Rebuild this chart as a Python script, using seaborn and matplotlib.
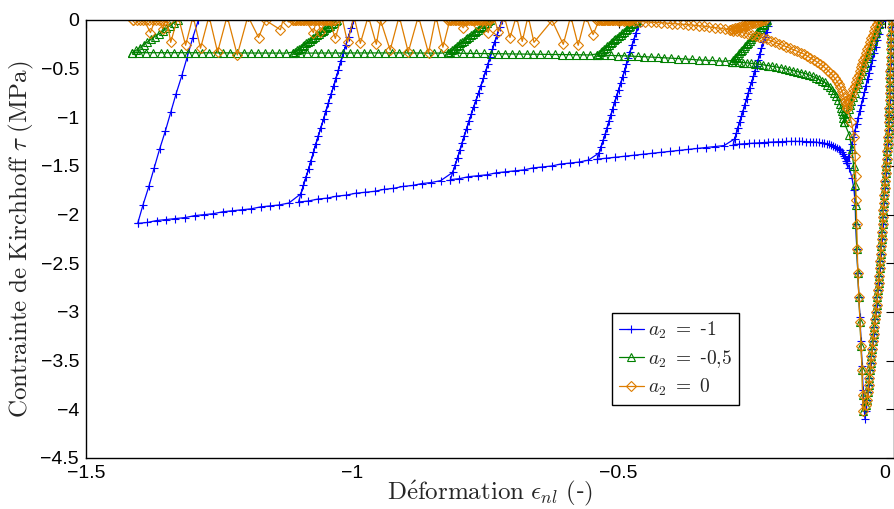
import matplotlib
matplotlib.use("Agg")
import matplotlib.pyplot as plt
import seaborn as sns

# pre-peak branch (same for the three a2 values)
arm_x = [0.013, 0.0125, 0.012, 0.0115, 0.011, 0.0108, 0.0105, 0.0101, 0.0098, 0.0094, 0.009, 0.0087, 0.0083,
         0.0079, 0.0075, 0.0066, 0.0057, 0.0048, 0.0038, 0.0029, 0.002, 0.0012, 0.0003, -0.0006, -0.0015, -0.0023,
         -0.003, -0.0039, -0.0047, -0.0055, -0.0063, -0.0072, -0.008, -0.0089, -0.0098, -0.0109, -0.012, -0.0132,
         -0.0143, -0.0157, -0.017, -0.0185, -0.020, -0.0215, -0.0229, -0.0242, -0.0254, -0.0267, -0.028, -0.0293,
         -0.0306, -0.0318, -0.033]
arm_y = [0.0, -0.075, -0.15, -0.225, -0.3, -0.375, -0.45, -0.525, -0.6, -0.675, -0.75, -0.825, -0.9, -0.975, -1.05,
         -1.125, -1.2, -1.275, -1.35, -1.425, -1.5, -1.575, -1.65, -1.725, -1.8, -1.875, -1.95, -2.025, -2.1, -2.175,
         -2.25, -2.325, -2.4, -2.475, -2.55, -2.625, -2.7, -2.775, -2.85, -2.925, -3.0, -3.075, -3.15, -3.225, -3.3,
         -3.375, -3.45, -3.525, -3.6, -3.675, -3.75, -3.825, -3.9]

# ---- a2 = -1 (blue)
b_soft_x = [-0.0355, -0.0375, -0.040, -0.041, -0.043, -0.045, -0.047, -0.049, -0.051, -0.053, -0.055, -0.056,
            -0.058, -0.062, -0.067, -0.071]
b_soft_y = [-4.02, -4.10, -3.95, -3.80, -3.55, -3.30, -3.05, -2.85, -2.60, -2.35, -2.10, -1.90, -1.75, -1.62,
            -1.52, -1.47]
b_diag_x = [-0.071, -0.0651, -0.0592, -0.0533, -0.0474, -0.0415, -0.0355, -0.0297, -0.0237, -0.0178, -0.0119, -0.006]
b_diag_y = [-1.47, -1.337, -1.204, -1.072, -0.939, -0.806, -0.674, -0.541, -0.408, -0.276, -0.143, -0.01]
b_rdiag_x = [-0.009, -0.0149, -0.0208, -0.0267, -0.0326, -0.0385, -0.0445, -0.0504, -0.0563, -0.0622, -0.068]
b_rdiag_y = [-0.077, -0.21, -0.342, -0.475, -0.608, -0.74, -0.873, -1.005, -1.138, -1.27, -1.404]
b_arc_x = [-0.071, -0.073, -0.075, -0.077, -0.079, -0.0815, -0.084, -0.087, -0.090, -0.0935, -0.097, -0.101, -0.105,
           -0.1095, -0.114, -0.119, -0.124, -0.1295, -0.135, -0.1415, -0.148, -0.155, -0.162, -0.1695, -0.177,
           -0.185, -0.193, -0.2015, -0.210, -0.219, -0.228, -0.237, -0.246, -0.2555, -0.265, -0.275, -0.285]
b_arc_y = [-1.47, -1.445, -1.42, -1.40, -1.38, -1.36, -1.34, -1.325, -1.31, -1.30, -1.29, -1.2825, -1.275, -1.27,
           -1.265, -1.2615, -1.258, -1.255, -1.252, -1.2505, -1.249, -1.248, -1.247, -1.247, -1.247, -1.248, -1.249,
           -1.251, -1.253, -1.256, -1.259, -1.262, -1.265, -1.2685, -1.272, -1.276, -1.28]
b_u5_x = [-0.285, -0.279, -0.273, -0.266, -0.260, -0.254, -0.247, -0.241, -0.235, -0.229, -0.222, -0.216]
b_u5_y = [-1.28, -1.16, -1.05, -0.93, -0.81, -0.70, -0.58, -0.47, -0.35, -0.23, -0.12, 0.0]
b_r5_x = [-0.219, -0.2255, -0.232, -0.238, -0.244, -0.2505, -0.257, -0.263, -0.2695, -0.276, -0.282]
b_r5_y = [-0.06, -0.175, -0.29, -0.41, -0.525, -0.64, -0.755, -0.87, -0.99, -1.105, -1.22]
b_l54_x = [-0.302, -0.319, -0.336, -0.353, -0.370, -0.387, -0.404, -0.421, -0.438, -0.455, -0.472, -0.489, -0.506,
           -0.523, -0.540]
b_l54_y = [-1.29, -1.30, -1.31, -1.32, -1.33, -1.34, -1.35, -1.36, -1.37, -1.38, -1.39, -1.40, -1.41, -1.42, -1.43]
b_u4_x = [-0.540, -0.533, -0.525, -0.518, -0.511, -0.504, -0.496, -0.489, -0.482, -0.475, -0.467, -0.460]
b_u4_y = [-1.43, -1.30, -1.17, -1.04, -0.91, -0.78, -0.65, -0.52, -0.39, -0.26, -0.13, 0.0]
b_r4_x = [-0.4635, -0.471, -0.4785, -0.4855, -0.4925, -0.500, -0.5075, -0.5145, -0.5215, -0.529, -0.5365]
b_r4_y = [-0.065, -0.195, -0.325, -0.455, -0.585, -0.715, -0.845, -0.975, -1.105, -1.235, -1.365]
b_l43_x = [-0.557, -0.575, -0.592, -0.609, -0.626, -0.644, -0.661, -0.678, -0.695, -0.713, -0.730, -0.747, -0.764,
           -0.782, -0.799, -0.816]
b_l43_y = [-1.44, -1.46, -1.47, -1.48, -1.50, -1.51, -1.52, -1.54, -1.55, -1.56, -1.57, -1.59, -1.60, -1.61, -1.63,
           -1.64]
b_u3_x = [-0.816, -0.807, -0.798, -0.790, -0.781, -0.772, -0.763, -0.754, -0.745, -0.737, -0.728, -0.719]
b_u3_y = [-1.64, -1.49, -1.34, -1.19, -1.04, -0.89, -0.75, -0.60, -0.45, -0.30, -0.15, 0.0]
b_r3_x = [-0.7235, -0.7325, -0.741, -0.7495, -0.7585, -0.7675, -0.7765, -0.7855, -0.794, -0.8025, -0.8115]
b_r3_y = [-0.075, -0.225, -0.375, -0.525, -0.675, -0.82, -0.965, -1.115, -1.265, -1.415, -1.565]
b_l32_x = [-0.834, -0.852, -0.869, -0.887, -0.905, -0.923, -0.941, -0.958, -0.976, -0.994, -1.012, -1.030, -1.047,
           -1.065, -1.083, -1.101]
b_l32_y = [-1.65, -1.67, -1.68, -1.70, -1.71, -1.73, -1.74, -1.76, -1.77, -1.78, -1.80, -1.81, -1.83, -1.84, -1.86,
           -1.87]
b_u2_x = [-1.101, -1.092, -1.082, -1.073, -1.064, -1.054, -1.045, -1.035, -1.026, -1.017, -1.007, -0.998]
b_u2_y = [-1.87, -1.70, -1.53, -1.36, -1.19, -1.02, -0.85, -0.68, -0.51, -0.34, -0.17, 0.0]
b_r2_x = [-1.0025, -1.012, -1.0215, -1.0305, -1.040, -1.0495, -1.059, -1.0685, -1.0775, -1.087, -1.0965]
b_r2_y = [-0.085, -0.255, -0.425, -0.595, -0.765, -0.935, -1.105, -1.275, -1.445, -1.615, -1.785]
b_l21_x = [-1.119, -1.137, -1.154, -1.172, -1.190, -1.208, -1.225, -1.243, -1.261, -1.279, -1.296, -1.314, -1.332,
           -1.350, -1.367, -1.385, -1.403]
b_l21_y = [-1.88, -1.90, -1.91, -1.92, -1.94, -1.95, -1.96, -1.97, -1.99, -2.00, -2.01, -2.03, -2.04, -2.05, -2.06,
           -2.08, -2.09]
b_u1_x = [-1.403, -1.393, -1.382, -1.372, -1.362, -1.351, -1.341, -1.331, -1.320, -1.310, -1.300, -1.289]
b_u1_y = [-2.09, -1.90, -1.71, -1.52, -1.33, -1.14, -0.95, -0.76, -0.57, -0.38, -0.19, 0.0]

# ---- a2 = -0.5 (green)
g_soft_x = [-0.036, -0.041, -0.042, -0.043, -0.045, -0.047, -0.049, -0.051, -0.053, -0.054, -0.055, -0.056, -0.059,
            -0.062, -0.067, -0.077]
g_soft_y = [-3.96, -4.02, -3.85, -3.60, -3.35, -3.10, -2.85, -2.60, -2.35, -2.10, -1.90, -1.70, -1.50, -1.33, -1.18,
            -1.05]
g_diag_x = [-0.077, -0.071, -0.066, -0.060, -0.054, -0.049, -0.043, -0.037, -0.032, -0.026, -0.020, -0.015, -0.009]
g_diag_y = [-1.05, -0.96, -0.875, -0.79, -0.70, -0.61, -0.525, -0.44, -0.35, -0.26, -0.175, -0.09, 0.0]
g_rdiag_x = [-0.012, -0.0175, -0.023, -0.029, -0.0345, -0.040, -0.046, -0.0515, -0.057, -0.063, -0.0685, -0.074]
g_rdiag_y = [-0.045, -0.1325, -0.2175, -0.305, -0.395, -0.4825, -0.5675, -0.655, -0.745, -0.8325, -0.9175, -1.005]
g_arc_x = [-0.077, -0.078, -0.079, -0.0805, -0.082, -0.085, -0.088, -0.0915, -0.095, -0.099, -0.103, -0.108, -0.113,
           -0.1185, -0.124, -0.1295, -0.135, -0.1425, -0.150, -0.1575, -0.165, -0.1725, -0.180, -0.188, -0.196,
           -0.204, -0.212, -0.2205, -0.229, -0.237, -0.245, -0.2525, -0.260, -0.2675, -0.275, -0.281, -0.287]
g_arc_y = [-1.05, -1.01, -0.97, -0.935, -0.90, -0.86, -0.82, -0.785, -0.75, -0.72, -0.69, -0.665, -0.64, -0.625,
           -0.61, -0.595, -0.58, -0.565, -0.55, -0.54, -0.53, -0.52, -0.51, -0.50, -0.49, -0.4825, -0.475, -0.4675,
           -0.46, -0.455, -0.45, -0.445, -0.44, -0.4375, -0.435, -0.4325, -0.43]
g_u5_x = [-0.287, -0.282, -0.276, -0.271, -0.265, -0.260, -0.254, -0.249, -0.243, -0.238, -0.232, -0.227, -0.221]
g_u5_y = [-0.43, -0.394, -0.358, -0.323, -0.287, -0.251, -0.215, -0.179, -0.143, -0.108, -0.072, -0.036, 0.0]
g_r5_x = [-0.224, -0.2295, -0.235, -0.2405, -0.246, -0.2515, -0.257, -0.2625, -0.268, -0.2735, -0.279, -0.2845]
g_r5_y = [-0.018, -0.054, -0.09, -0.1255, -0.161, -0.197, -0.233, -0.269, -0.305, -0.3405, -0.376, -0.412]
g_l54_x = [-0.300, -0.312, -0.325, -0.338, -0.350, -0.363, -0.376, -0.388, -0.401, -0.414, -0.426, -0.439, -0.452,
           -0.464, -0.477, -0.490, -0.502, -0.515, -0.527, -0.540]
g_l54_y = [-0.425, -0.42, -0.416, -0.413, -0.41, -0.405, -0.40, -0.396, -0.392, -0.388, -0.384, -0.38, -0.377,
           -0.374, -0.371, -0.368, -0.366, -0.364, -0.362, -0.36]
g_u4_x = [-0.540, -0.534, -0.528, -0.521, -0.515, -0.509, -0.503, -0.496, -0.490, -0.484, -0.478, -0.471, -0.465]
g_u4_y = [-0.36, -0.33, -0.30, -0.27, -0.24, -0.21, -0.18, -0.15, -0.12, -0.09, -0.06, -0.03, 0.0]
g_r4_x = [-0.468, -0.4745, -0.481, -0.487, -0.493, -0.4995, -0.506, -0.512, -0.518, -0.5245, -0.531, -0.537]
g_r4_y = [-0.015, -0.045, -0.075, -0.105, -0.135, -0.165, -0.195, -0.225, -0.255, -0.285, -0.315, -0.345]
g_l43_x = [-0.553, -0.567, -0.580, -0.593, -0.607, -0.620, -0.633, -0.647, -0.660, -0.673, -0.687, -0.700, -0.713,
           -0.727, -0.740, -0.753, -0.767, -0.780, -0.793, -0.807, -0.820]
g_l43_y = [-0.359, -0.358, -0.357, -0.356, -0.355, -0.354, -0.353, -0.352, -0.351, -0.350, -0.349, -0.348, -0.347,
           -0.346, -0.345, -0.344, -0.343, -0.342, -0.341, -0.340, -0.340]
g_u3_x = [-0.820, -0.813, -0.807, -0.800, -0.794, -0.787, -0.781, -0.774, -0.767, -0.761, -0.754, -0.748, -0.741]
g_u3_y = [-0.34, -0.312, -0.283, -0.255, -0.227, -0.198, -0.17, -0.142, -0.113, -0.085, -0.057, -0.028, 0.0]
g_r3_x = [-0.7445, -0.751, -0.7575, -0.764, -0.7705, -0.7775, -0.784, -0.7905, -0.797, -0.8035, -0.810, -0.8165]
g_r3_y = [-0.014, -0.0425, -0.071, -0.099, -0.1275, -0.156, -0.184, -0.2125, -0.241, -0.269, -0.2975, -0.326]
g_l32_x = [-0.833, -0.846, -0.860, -0.873, -0.886, -0.899, -0.913, -0.926, -0.939, -0.952, -0.966, -0.979, -0.992,
           -1.005, -1.018, -1.032, -1.045, -1.058, -1.071, -1.085, -1.098, -1.111]
g_l32_y = [-0.340, -0.340, -0.339, -0.339, -0.339, -0.338, -0.338, -0.338, -0.338, -0.338, -0.338, -0.338, -0.338,
           -0.338, -0.338, -0.339, -0.339, -0.339, -0.340, -0.340, -0.340, -0.340]
g_u2_x = [-1.111, -1.104, -1.097, -1.090, -1.083, -1.076, -1.070, -1.063, -1.056, -1.049, -1.042, -1.035, -1.028]
g_u2_y = [-0.34, -0.312, -0.283, -0.255, -0.227, -0.198, -0.17, -0.142, -0.113, -0.085, -0.057, -0.028, 0.0]
g_r2_x = [-1.0315, -1.0385, -1.0455, -1.0525, -1.0595, -1.0665, -1.073, -1.0795, -1.0865, -1.0935, -1.1005, -1.1075]
g_r2_y = [-0.014, -0.0425, -0.071, -0.099, -0.1275, -0.156, -0.184, -0.2125, -0.241, -0.269, -0.2975, -0.326]
g_l21_x = [-1.124, -1.137, -1.150, -1.164, -1.177, -1.190, -1.203, -1.216, -1.229, -1.242, -1.255, -1.269, -1.282,
           -1.295, -1.308, -1.321, -1.334, -1.347, -1.360, -1.374, -1.387, -1.400, -1.413]
g_l21_y = [-0.340, -0.340, -0.340, -0.339, -0.339, -0.339, -0.338, -0.338, -0.338, -0.337, -0.337, -0.337, -0.337,
           -0.336, -0.336, -0.336, -0.336, -0.336, -0.336, -0.336, -0.336, -0.336, -0.336]
g_u1_x = [-1.413, -1.406, -1.399, -1.392, -1.385, -1.378, -1.371, -1.363, -1.356, -1.349, -1.342, -1.335, -1.328]
g_u1_y = [-0.34, -0.312, -0.283, -0.255, -0.227, -0.198, -0.17, -0.142, -0.113, -0.085, -0.057, -0.028, 0.0]

# ---- a2 = 0 (orange)
o_soft_x = [-0.036, -0.041, -0.042, -0.043, -0.045, -0.047, -0.049, -0.051, -0.052, -0.053, -0.054, -0.055, -0.056,
            -0.058, -0.063, -0.072]
o_soft_y = [-3.96, -4.02, -3.85, -3.60, -3.35, -3.10, -2.85, -2.60, -2.35, -2.10, -1.85, -1.60, -1.40, -1.20, -1.05,
            -0.90]
o_diag_x = [-0.072, -0.067, -0.062, -0.057, -0.052, -0.047, -0.043, -0.038, -0.033, -0.028, -0.023, -0.018, -0.013]
o_diag_y = [-0.90, -0.825, -0.75, -0.675, -0.60, -0.525, -0.45, -0.375, -0.30, -0.225, -0.15, -0.075, 0.0]
o_rdiag_x = [-0.0155, -0.0205, -0.0255, -0.0305, -0.0355, -0.0405, -0.045, -0.0495, -0.0545, -0.0595, -0.0645,
             -0.0695]
o_rdiag_y = [-0.0375, -0.1125, -0.1875, -0.2625, -0.3375, -0.4125, -0.4875, -0.5625, -0.6375, -0.7125, -0.7875,
             -0.8625]
o_arc_x = [-0.072, -0.0735, -0.075, -0.077, -0.079, -0.0815, -0.084, -0.087, -0.090, -0.094, -0.098, -0.1025, -0.107,
           -0.112, -0.117, -0.1225, -0.128, -0.134, -0.140, -0.146, -0.152, -0.1585, -0.165, -0.1715, -0.178, -0.185,
           -0.192, -0.199, -0.206, -0.2135, -0.221, -0.2285, -0.236, -0.243, -0.250, -0.257, -0.264, -0.271, -0.278,
           -0.2845, -0.291]
o_arc_y = [-0.90, -0.865, -0.83, -0.795, -0.76, -0.725, -0.69, -0.66, -0.63, -0.60, -0.57, -0.545, -0.52, -0.495,
           -0.47, -0.45, -0.43, -0.41, -0.39, -0.37, -0.35, -0.335, -0.32, -0.305, -0.29, -0.275, -0.26, -0.245,
           -0.23, -0.215, -0.20, -0.1875, -0.175, -0.165, -0.155, -0.145, -0.135, -0.1265, -0.118, -0.109, -0.10]
o_u5_x = [-0.291, -0.284, -0.278, -0.271, -0.265, -0.258, -0.251, -0.245, -0.238, -0.232, -0.225]
o_u5_y = [-0.10, -0.09, -0.08, -0.07, -0.06, -0.05, -0.04, -0.03, -0.02, -0.01, 0.0]
o_r5_x = [-0.2285, -0.235, -0.2415, -0.248, -0.2545, -0.2615, -0.268, -0.2745, -0.281, -0.2875]
o_r5_y = [-0.005, -0.015, -0.025, -0.035, -0.045, -0.055, -0.065, -0.075, -0.085, -0.095]
o_l54_x = [-0.300, -0.310, -0.320, -0.330, -0.340, -0.350, -0.360, -0.370, -0.380, -0.390, -0.400, -0.410, -0.420,
           -0.430, -0.440, -0.450, -0.460, -0.470, -0.480, -0.490, -0.500, -0.510, -0.520, -0.530, -0.540]
o_l54_y = [-0.093, -0.085, -0.078, -0.071, -0.064, -0.058, -0.053, -0.048, -0.044, -0.040, -0.036, -0.032, -0.028,
           -0.025, -0.022, -0.019, -0.016, -0.013, -0.011, -0.009, -0.007, -0.005, -0.003, -0.002, -0.001]
o_u4_x = [-0.540, -0.534, -0.528, -0.522, -0.516, -0.510, -0.504, -0.498, -0.492, -0.486, -0.480, -0.473]
o_u4_y = [-0.004, -0.004, -0.003, -0.003, -0.003, -0.002, -0.002, -0.002, -0.001, -0.001, -0.001, 0.0]
o_r4_x = [-0.4765, -0.483, -0.489, -0.495, -0.501, -0.507, -0.513, -0.519, -0.525, -0.531, -0.537]
o_r4_y = [-0.001, -0.001, -0.001, -0.002, -0.002, -0.002, -0.003, -0.003, -0.003, -0.004, -0.004]
o_l43_x = [-0.548, -0.562, -0.576, -0.590, -0.604, -0.625, -0.659, -0.670, -0.681, -0.692, -0.704, -0.715, -0.726,
           -0.735, -0.745, -0.755, -0.765, -0.778, -0.792, -0.806, -0.820]
o_l43_y = [-0.15, 0.04, -0.26, 0.04, -0.25, -0.005, -0.23, 0.04, -0.22, 0.04, -0.18, 0.04, -0.12, 0.04, -0.13, 0.04,
           -0.05, 0.04, -0.08, 0.04, -0.002]
o_u3_x = [-0.820, -0.814, -0.808, -0.802, -0.796, -0.790, -0.784, -0.778, -0.772, -0.766, -0.760, -0.754, -0.747,
          -0.741]
o_u3_y = [-0.003, -0.003, -0.003, -0.002, -0.002, -0.002, -0.002, -0.001, -0.001, -0.001, -0.001, -0.001, 0.0, 0.0]
o_r3_x = [-0.744, -0.7505, -0.757, -0.763, -0.769, -0.775, -0.781, -0.787, -0.793, -0.799, -0.805, -0.811, -0.817]
o_r3_y = [0.0, -0.001, -0.001, -0.001, -0.001, -0.001, -0.002, -0.002, -0.002, -0.002, -0.003, -0.003, -0.003]
o_l32_x = [-0.830, -0.843, -0.857, -0.876, -0.895, -0.912, -0.929, -0.947, -0.955, -0.970, -0.985, -0.997, -1.009,
           -1.020, -1.032, -1.045, -1.060, -1.066, -1.073, -1.092, -1.111]
o_l32_y = [-0.28, 0.04, -0.34, 0.04, -0.33, 0.04, -0.31, -0.005, -0.25, 0.04, -0.24, 0.04, -0.23, 0.04, -0.19, 0.04,
           -0.12, 0.04, -0.13, 0.03, -0.002]
o_u2_x = [-1.111, -1.105, -1.099, -1.093, -1.087, -1.080, -1.074, -1.068, -1.062, -1.056, -1.050, -1.044, -1.038,
          -1.032]
o_u2_y = [-0.003, -0.003, -0.003, -0.002, -0.002, -0.002, -0.002, -0.001, -0.001, -0.001, -0.001, -0.001, 0.0, 0.0]
o_r2_x = [-1.035, -1.041, -1.047, -1.053, -1.059, -1.065, -1.071, -1.077, -1.084, -1.090, -1.096, -1.102, -1.108]
o_r2_y = [0.0, -0.001, -0.001, -0.001, -0.001, -0.001, -0.002, -0.002, -0.002, -0.002, -0.003, -0.003, -0.003]
o_l21_x = [-1.120, -1.128, -1.135, -1.163, -1.176, -1.196, -1.216, -1.235, -1.253, -1.269, -1.285, -1.299, -1.313,
           -1.327, -1.341, -1.349, -1.356, -1.368, -1.379, -1.395, -1.411]
o_l21_y = [-0.02, 0.04, -0.10, -0.003, -0.18, 0.04, -0.36, 0.04, -0.33, 0.04, -0.29, 0.04, -0.26, 0.04, -0.23, 0.04,
           -0.09, 0.04, -0.13, 0.04, -0.002]
o_u1_x = [-1.411, -1.405, -1.399, -1.393, -1.387, -1.381, -1.375, -1.369, -1.363, -1.357, -1.351, -1.345]
o_u1_y = [-0.003, -0.003, -0.003, -0.002, -0.002, -0.002, -0.001, -0.001, -0.001, -0.001, 0.0, 0.0]

labels = [r'$a_2\ =\ $-$\mathrm{1}$', r'$a_2\ =\ $-$\mathrm{0{,}5}$', r'$a_2\ =\ \mathrm{0}$']
colors = ['#0000FF', '#008000', '#DE7D00']
markers = ['+', '^', 'D']
x_ticks = [-1.5, -1, -0.5, 0]
x_ticklabels = ['\u22121.5', '\u22121', '\u22120.5', '0']
y_ticks = [0, -0.5, -1, -1.5, -2, -2.5, -3, -3.5, -4, -4.5]
y_ticklabels = ['0', '\u22120.5', '\u22121', '\u22121.5', '\u22122', '\u22122.5', '\u22123', '\u22123.5', '\u22124',
                '\u22124.5']


def chain(*segs):
    xs, ys = [], []
    for sx, sy in segs:
        xs += list(sx)
        ys += list(sy)
    return xs, ys


paths = [
    chain((arm_x, arm_y), (b_soft_x, b_soft_y), (b_diag_x, b_diag_y), (b_rdiag_x, b_rdiag_y), (b_arc_x, b_arc_y),
          (b_u5_x, b_u5_y), (b_r5_x, b_r5_y), (b_l54_x, b_l54_y),
          (b_u4_x, b_u4_y), (b_r4_x, b_r4_y), (b_l43_x, b_l43_y),
          (b_u3_x, b_u3_y), (b_r3_x, b_r3_y), (b_l32_x, b_l32_y),
          (b_u2_x, b_u2_y), (b_r2_x, b_r2_y), (b_l21_x, b_l21_y), (b_u1_x, b_u1_y)),
    chain((arm_x, arm_y), (g_soft_x, g_soft_y), (g_diag_x, g_diag_y), (g_rdiag_x, g_rdiag_y), (g_arc_x, g_arc_y),
          (g_u5_x, g_u5_y), (g_r5_x, g_r5_y), (g_l54_x, g_l54_y),
          (g_u4_x, g_u4_y), (g_r4_x, g_r4_y), (g_l43_x, g_l43_y),
          (g_u3_x, g_u3_y), (g_r3_x, g_r3_y), (g_l32_x, g_l32_y),
          (g_u2_x, g_u2_y), (g_r2_x, g_r2_y), (g_l21_x, g_l21_y), (g_u1_x, g_u1_y)),
    chain((arm_x, arm_y), (o_soft_x, o_soft_y), (o_diag_x, o_diag_y), (o_rdiag_x, o_rdiag_y), (o_arc_x, o_arc_y),
          (o_u5_x, o_u5_y), (o_r5_x, o_r5_y), (o_l54_x, o_l54_y),
          (o_u4_x, o_u4_y), (o_r4_x, o_r4_y), (o_l43_x, o_l43_y),
          (o_u3_x, o_u3_y), (o_r3_x, o_r3_y), (o_l32_x, o_l32_y),
          (o_u2_x, o_u2_y), (o_r2_x, o_r2_y), (o_l21_x, o_l21_y), (o_u1_x, o_u1_y)),
]

sns.set_style("white")
plt.rcParams['font.family'] = ['Liberation Sans', 'DejaVu Sans']
plt.rcParams['mathtext.fontset'] = 'cm'

fig = plt.figure(figsize=(8.94, 5.09), dpi=100)
ax = fig.add_axes([86 / 894, 51 / 509, 808 / 894, 438 / 509])

for (xs, ys), lab, col, mk in zip(paths, labels, colors, markers):
    sns.lineplot(x=xs, y=ys, sort=False, estimator=None, errorbar=None, ax=ax, color=col,
                 marker=mk, markersize=6 if mk != 'D' else 5, markeredgewidth=0.8,
                 markeredgecolor=col, markerfacecolor='none', linewidth=0.9, label=lab)

ax.set_xlim(-1.5, (894 - 885) / 533)
ax.set_ylim(-4.5, 0)
ax.set_xticks(x_ticks)
ax.set_xticklabels(x_ticklabels)
ax.set_yticks(y_ticks)
ax.set_yticklabels(y_ticklabels)
ax.tick_params(direction='in', length=6, width=0.8, top=True, right=True, labelsize=14, pad=5,
               colors='black')
for s in ax.spines.values():
    s.set_visible(True)
    s.set_color('black')
    s.set_linewidth(1.0)

ax.set_xlabel(r'$\mathrm{D\acute{e}formation}\ \epsilon_{nl}\ \mathrm{(}$-$\mathrm{)}$', fontsize=18, labelpad=-2)
ax.set_ylabel(r'$\mathrm{Contrainte\ de\ Kirchhoff}\ \tau\ \mathrm{(MPa)}$', fontsize=18)
ax.yaxis.set_label_coords(-0.062, 0.5)

ax.legend(loc='upper left', bbox_to_anchor=(0.651, 0.331), frameon=True, fancybox=False, edgecolor='black',
          framealpha=1, fontsize=14, handlelength=1.3, handletextpad=0.2, borderpad=0.35, labelspacing=0.35,
          borderaxespad=0)

fig.savefig('out.png', dpi=100)
